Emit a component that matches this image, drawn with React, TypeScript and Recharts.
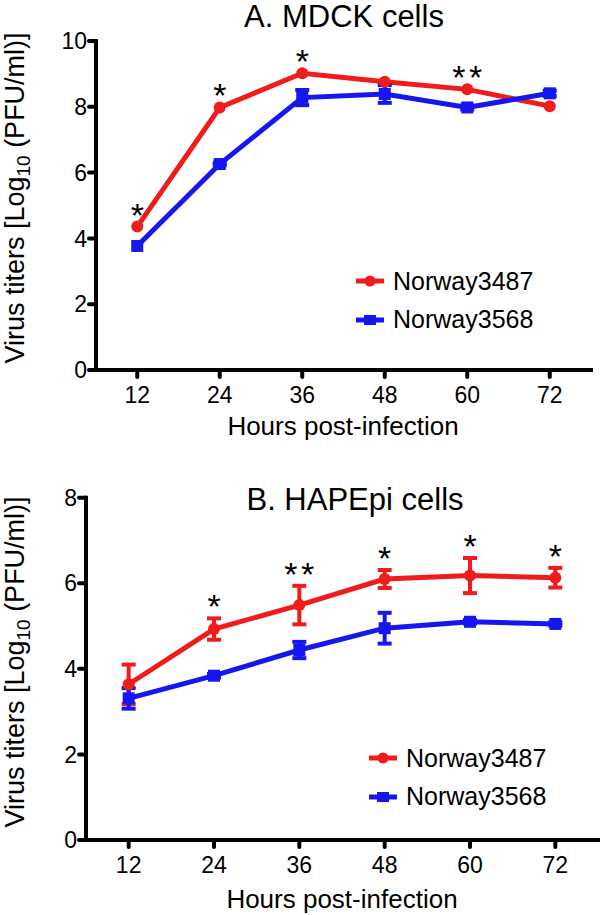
import { LineChart, Line, XAxis, YAxis, ErrorBar, LabelList, Legend } from 'recharts';

// hours post-infection
const hours = [12, 24, 36, 48, 60, 72];

// A. MDCK cells
const mdckNorway3487 = [4.36, 7.98, 9.02, 8.76, 8.53, 8.02];
const mdckNorway3487Err = [0, 0, 0, 0, 0, 0];
const mdckNorway3568 = [3.77, 6.26, 8.28, 8.39, 7.98, 8.41];
const mdckNorway3568Err = [0, 0.04, 0.23, 0.27, 0.06, 0.08];
const mdckStars = ['*', '*', '*', '', '**', ''];
const mdckTicks = [0, 2, 4, 6, 8, 10];

// B. HAPEpi cells
const hapeNorway3487 = [3.64, 4.93, 5.49, 6.1, 6.18, 6.13];
const hapeNorway3487Err = [0.46, 0.25, 0.45, 0.21, 0.41, 0.23];
const hapeNorway3568 = [3.31, 3.84, 4.44, 4.95, 5.1, 5.05];
const hapeNorway3568Err = [0.24, 0.04, 0.19, 0.36, 0.04, 0.04];
const hapeStars = ['', '*', '**', '*', '*', '*'];
const hapeTicks = [0, 2, 4, 6, 8];

const RED = '#f01c1c';
const BLUE = '#1616f0';
const FONT = '"Liberation Sans", Arial, Helvetica, sans-serif';

function buildRows(a: number[], aErr: number[], b: number[], bErr: number[], stars: string[]) {
  return hours.map((h, i) => ({
    hour: h,
    n3487: a[i],
    n3487Err: aErr[i],
    n3568: b[i],
    n3568Err: bErr[i],
    star: stars[i],
  }));
}

const squareDot = (props: any) => (
  <rect key={`sq-${props.index}`} x={props.cx - 6} y={props.cy - 6} width={12} height={12} fill={BLUE} />
);

// asterisks sit just above the top of the error bar
const starLabel = (errs: number[], pxPerUnit: number) => (props: any) => {
  const { x, y, value, index } = props;
  if (!value) return null;
  const top = y - errs[index] * pxPerUnit;
  const spacing = value.length > 1 ? 3.5 : 0;
  return (
    <text
      key={`star-${index}`}
      x={x + spacing / 2}
      y={top}
      textAnchor="middle"
      fontSize={34}
      letterSpacing={spacing}
      fontFamily={FONT}
      fill="#000"
    >
      {value}
    </text>
  );
};

function LegendBox() {
  const item = (name: string, color: string, square: boolean) => (
    <div style={{ display: 'flex', alignItems: 'center', height: 38.5 }}>
      <svg width={28} height={16} style={{ marginRight: 9 }}>
        <line x1={0} y1={8} x2={28} y2={8} stroke={color} strokeWidth={5} />
        {square ? <rect x={8} y={3} width={12} height={10} fill={color} /> : <circle cx={14} cy={8} r={5.5} fill={color} />}
      </svg>
      <span style={{ fontFamily: FONT, fontSize: 25, color: '#000', lineHeight: '25px' }}>{name}</span>
    </div>
  );
  return (
    <div>
      {item('Norway3487', RED, false)}
      {item('Norway3568', BLUE, true)}
    </div>
  );
}

interface PanelProps {
  top: number;
  height: number;
  plot: { left: number; right: number; top: number; bottom: number };
  yMax: number;
  yTicks: number[];
  title: string;
  titleX: number;
  titleY: number;
  yLabelCy: number;
  xLabelX: number;
  xLabelY: number;
  legendLeft: number;
  legendTop: number;
  red: number[];
  redErr: number[];
  blue: number[];
  blueErr: number[];
  stars: string[];
}

function Panel(p: PanelProps) {
  const data = buildRows(p.red, p.redErr, p.blue, p.blueErr, p.stars);
  const xAxisHeight = 40;
  const pxPerUnit = (p.plot.bottom - p.plot.top) / p.yMax;
  const axisStyle = { stroke: '#000', strokeWidth: 4, strokeLinecap: 'square' as const };
  const tickLine = { stroke: '#000', strokeWidth: 4, strokeLinecap: 'round' as const };
  const tickStyle = { fill: '#000', fontSize: 23, fontFamily: FONT };

  return (
    <div style={{ position: 'absolute', left: 0, top: p.top }}>
      <LineChart
        width={600}
        height={p.height}
        data={data}
        margin={{ top: p.plot.top, right: 600 - p.plot.right, bottom: p.height - p.plot.bottom - xAxisHeight, left: 0 }}
        style={{ overflow: 'visible' }}
      >
        <XAxis
          dataKey="hour"
          type="number"
          domain={[6, 78]}
          ticks={hours}
          height={xAxisHeight}
          axisLine={axisStyle}
          tickLine={tickLine}
          tickSize={7}
          tickMargin={10}
          tick={tickStyle}
        />
        <YAxis
          type="number"
          domain={[0, p.yMax]}
          ticks={p.yTicks}
          width={p.plot.left}
          axisLine={axisStyle}
          tickLine={tickLine}
          tickSize={7}
          tickMargin={2}
          tick={tickStyle}
        />
        <Line
          dataKey="n3487"
          name="Norway3487"
          stroke={RED}
          strokeWidth={5}
          dot={{ r: 6, fill: RED, stroke: RED, strokeWidth: 0 }}
          isAnimationActive={false}
        >
          <ErrorBar dataKey="n3487Err" width={7} strokeWidth={4} stroke={RED} direction="y" />
          <LabelList dataKey="star" content={starLabel(p.redErr, pxPerUnit)} />
        </Line>
        <Line
          dataKey="n3568"
          name="Norway3568"
          stroke={BLUE}
          strokeWidth={5}
          dot={squareDot}
          isAnimationActive={false}
        >
          <ErrorBar dataKey="n3568Err" width={7} strokeWidth={4} stroke={BLUE} direction="y" />
        </Line>
        <Legend
          layout="vertical"
          align="center"
          verticalAlign="middle"
          content={() => <LegendBox />}
          wrapperStyle={{ left: p.legendLeft, top: p.legendTop, width: 220, height: 80 }}
        />
        <text x={p.titleX} y={p.titleY} textAnchor="middle" fontSize={31} fontFamily={FONT} fill="#000">
          {p.title}
        </text>
        <text x={p.xLabelX} y={p.xLabelY} textAnchor="middle" fontSize={26} fontFamily={FONT} fill="#000">
          Hours post-infection
        </text>
        <text
          transform={`rotate(-90)`}
          x={-p.yLabelCy}
          y={24}
          textAnchor="middle"
          fontSize={27}
          fontFamily={FONT}
          fill="#000"
        >
          Virus titers [Log
          <tspan fontSize={19} dy={6}>10</tspan>
          <tspan dy={-6}> (PFU/ml)]</tspan>
        </text>
      </LineChart>
    </div>
  );
}

export default function App() {
  return (
    <div style={{ position: 'absolute', left: 0, top: 0, width: 600, height: 915, background: '#fff' }}>
      <Panel
        top={0}
        height={450}
        plot={{ left: 96, right: 591, top: 41, bottom: 370 }}
        yMax={10}
        yTicks={mdckTicks}
        title="A. MDCK cells"
        titleX={344}
        titleY={27}
        yLabelCy={198}
        xLabelX={343}
        xLabelY={435}
        legendLeft={356}
        legendTop={262}
        red={mdckNorway3487}
        redErr={mdckNorway3487Err}
        blue={mdckNorway3568}
        blueErr={mdckNorway3568Err}
        stars={mdckStars}
      />
      <Panel
        top={455}
        height={460}
        plot={{ left: 86, right: 598, top: 42.7, bottom: 385 }}
        yMax={8}
        yTicks={hapeTicks}
        title="B. HAPEpi cells"
        titleX={355}
        titleY={55}
        yLabelCy={207}
        xLabelX={342}
        xLabelY={453}
        legendLeft={369}
        legendTop={284}
        red={hapeNorway3487}
        redErr={hapeNorway3487Err}
        blue={hapeNorway3568}
        blueErr={hapeNorway3568Err}
        stars={hapeStars}
      />
    </div>
  );
}
